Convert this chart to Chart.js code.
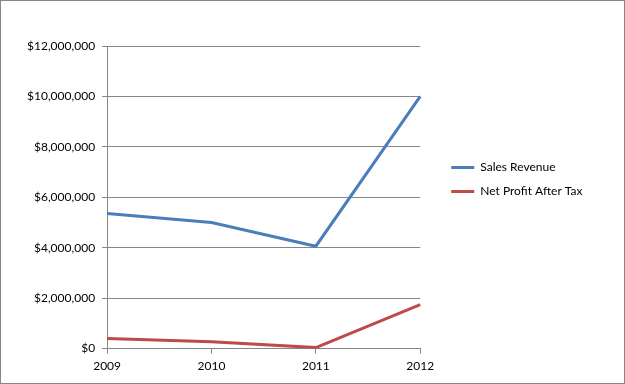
<!DOCTYPE html>
<html>
<head>
<meta charset="utf-8">
<script src="https://cdn.jsdelivr.net/npm/chart.js@4"></script>
<style>
  body { margin: 0; background: #fff; }
  #wrap { width: 623px; height: 382px; border: 1px solid #868686; }
</style>
</head>
<body>
<div id="wrap"><canvas id="myChart" width="623" height="382"></canvas></div>
<script>
const years = ["2009", "2010", "2011", "2012"];
const salesRevenue = [5360000, 5000000, 4060000, 10000000];
const netProfitAfterTax = [400000, 270000, 40000, 1740000];

const ctx = document.getElementById("myChart");
const axisGray = "#868686";
const LEGEND_GAP = 19; // espaço entre o gráfico e a legenda

// alarga a legenda e empurra os itens para a direita
const legendGap = {
  id: "legendGap",
  beforeLayout(chart) {
    const legend = chart.legend;
    if (!legend || legend._gapPatched) return;
    legend._gapPatched = true;
    const fit = legend.fit;
    legend.fit = function () {
      fit.call(this);
      this.width += LEGEND_GAP;
    };
    const draw = legend.draw;
    legend.draw = function () {
      this.left += LEGEND_GAP;
      this.right += LEGEND_GAP;
      draw.call(this);
      this.left -= LEGEND_GAP;
      this.right -= LEGEND_GAP;
    };
  },
};

const chart = new Chart(ctx, {
  type: "line",
  data: {
    labels: years,
    datasets: [
      {
        label: "Sales Revenue",
        data: salesRevenue,
        borderColor: "#4A7EBB",
        backgroundColor: "#4A7EBB",
        borderWidth: 3,
        pointRadius: 0,
        tension: 0,
      },
      {
        label: "Net Profit After Tax",
        data: netProfitAfterTax,
        borderColor: "#BE4B48",
        backgroundColor: "#BE4B48",
        borderWidth: 3,
        pointRadius: 0,
        tension: 0,
      },
    ],
  },
  plugins: [legendGap],
  options: {
    responsive: false,
    animation: false,
    layout: { padding: { left: 19, top: 45, right: 45, bottom: 5 } },
    font: { family: "Lato" },
    plugins: {
      tooltip: { enabled: false },
      legend: {
        position: "right",
        align: "start",
        title: { display: true, text: "", padding: { top: 89, bottom: 0 } },
        labels: {
          usePointStyle: true,
          pointStyle: "line",
          pointStyleWidth: 23,
          boxWidth: 23,
          color: "#000",
          padding: 12,
          font: { family: "Lato", size: 12 },
        },
      },
    },
    scales: {
      x: {
        offset: false,
        grid: { drawOnChartArea: false, color: axisGray, tickLength: 5 },
        border: { color: axisGray },
        ticks: { color: "#000", padding: 5, font: { family: "Lato", size: 12 } },
      },
      y: {
        min: 0,
        max: 12000000,
        grid: { color: axisGray, tickLength: 5 },
        border: { color: axisGray },
        ticks: {
          stepSize: 2000000,
          color: "#000",
          padding: 7,
          font: { family: "Lato", size: 12 },
          callback: (v) => "$" + v.toLocaleString("en-US"),
        },
      },
    },
  },
});
</script>
</body>
</html>
